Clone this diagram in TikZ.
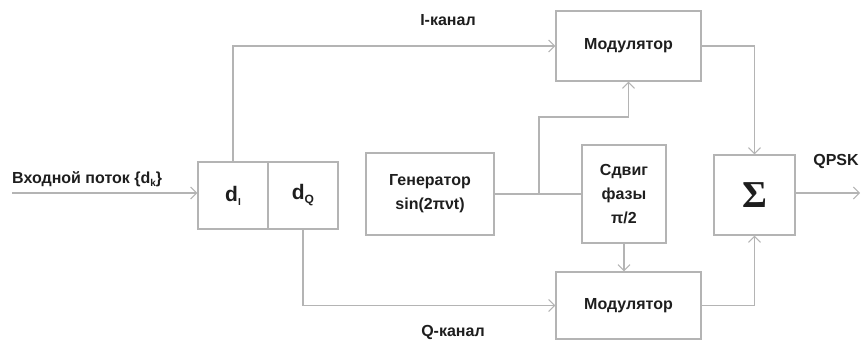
\documentclass[tikz,border=0pt]{standalone}
\usepackage{fontspec}
\setmainfont{Liberation Sans}
\newfontfamily\sigmafont{Liberation Serif}
\usetikzlibrary{arrows.meta}
\definecolor{linegray}{HTML}{B4B4B4}
\definecolor{inkdark}{HTML}{1E1E1E}
\begin{document}
\begin{tikzpicture}[x=1pt,y=-1pt,
  every node/.style={text=inkdark, font=\bfseries\fontsize{16}{24}\selectfont},
  blk/.style={draw=linegray, line width=1.4pt, inner sep=0pt, align=center},
  wire/.style={draw=linegray, line width=1.4pt},
  arr/.style={wire, -{Straight Barb[length=6pt,width=12pt,line width=1pt]}},
  lbl/.style={inner sep=0pt}
]
\useasboundingbox (0,0) rectangle (863,343);

% blocks
\node[blk, minimum width=145pt, minimum height=70pt] (modI) at (628.5,46) {Модулятор};
\node[blk, minimum width=145pt, minimum height=67pt] (modQ) at (628.5,305.5) {Модулятор};
\node[blk, minimum width=70pt, minimum height=67pt, font=\bfseries\fontsize{21}{24}\selectfont] (dI) at (233,195.5) {d\raisebox{-0.35ex}{\fontsize{10}{10}\selectfont I}};
\node[blk, minimum width=70pt, minimum height=67pt, font=\bfseries\fontsize{21}{24}\selectfont] (dQ) at (303,195.5) {d\raisebox{-0.35ex}{\fontsize{12}{12}\selectfont Q}};
\node[blk, minimum width=128pt, minimum height=82pt] (gen) at (430,194) {Генератор\\sin(2πνt)};
\node[blk, minimum width=84pt, minimum height=98pt] (phase) at (624,194) {Сдвиг\\фазы\\π/2};
\node[blk, minimum width=81pt, minimum height=80pt] (sum) at (754.5,195) {\sigmafont\bfseries\fontsize{38}{38}\selectfont Σ};

% free ends and branch points
\coordinate (src) at (12,193);
\coordinate (out) at (860,193);
\coordinate (br) at (539,194);
\coordinate (up) at (539,117);

% connectors
\draw[arr] (src) -- (src -| dI.west);
\draw[arr] (dI.north) |- (modI.west);
\draw[arr] (dQ.south) |- (modQ.west);
\draw[wire] (gen.east) -- (phase.west);
\draw[arr] (br) -- (up) -| (modI.south);
\draw[arr] (phase.south) -- (phase.south |- modQ.north);
\draw[arr] (modI.east) -| (sum.north);
\draw[arr] (modQ.east) -| (sum.south);
\draw[arr] (sum.east |- out) -- (out);

% labels
\node[lbl] (lblI) at (448,20) {I-канал};
\node[lbl] (lblQ) at (453,332) {Q-канал};
\node[lbl] (lblOut) at (836,161) {QPSK};
\node[lbl, anchor=base west] (lblIn) at (12,183) {Входной поток \{d\raisebox{-0.4ex}{\fontsize{10}{10}\selectfont k}\}};
\end{tikzpicture}
\end{document}
